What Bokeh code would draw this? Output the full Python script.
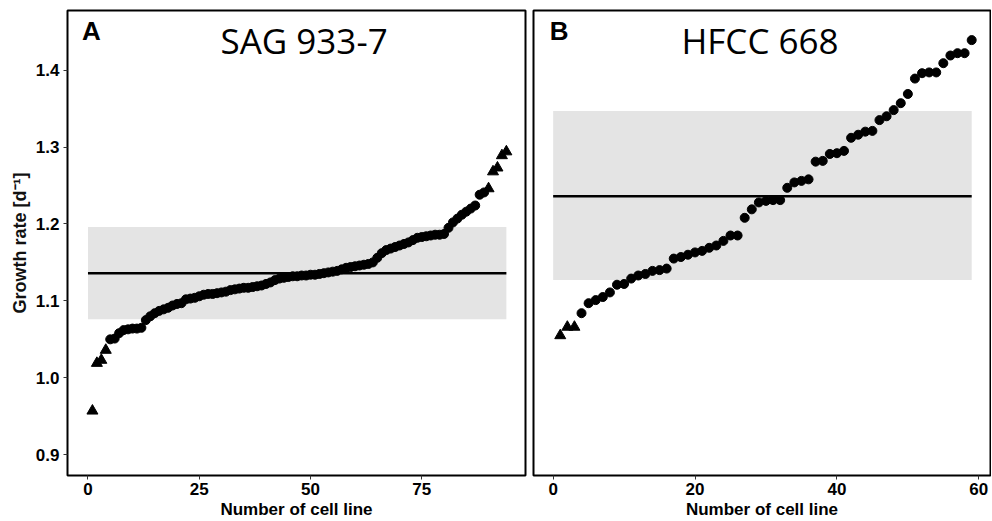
from bokeh.plotting import figure
from bokeh.layouts import row
from bokeh.models import Range1d, FixedTicker, PrintfTickFormatter, Label
from bokeh.embed import file_html
from bokeh.resources import INLINE

# ---------------- data ----------------
# Panel A: SAG 933-7 (sorted growth rates per cell line)
a_values = [0.957, 1.019, 1.023, 1.036,
            1.050, 1.051, 1.058, 1.062, 1.063, 1.064, 1.064, 1.065, 1.075, 1.080,
            1.084, 1.087, 1.089, 1.091, 1.094, 1.096, 1.097, 1.102, 1.103, 1.104,
            1.106, 1.108, 1.109, 1.109, 1.110, 1.111, 1.112, 1.114, 1.115, 1.116,
            1.117, 1.117, 1.118, 1.119, 1.120, 1.122, 1.124, 1.127, 1.129, 1.130,
            1.131, 1.132, 1.132, 1.133, 1.133, 1.134, 1.134, 1.135, 1.136, 1.137,
            1.138, 1.139, 1.141, 1.143, 1.144, 1.145, 1.146, 1.147, 1.148, 1.150,
            1.156, 1.162, 1.166, 1.168, 1.170, 1.172, 1.174, 1.176, 1.179, 1.182,
            1.183, 1.184, 1.185, 1.186, 1.186, 1.187, 1.195, 1.202, 1.207, 1.212,
            1.216, 1.220, 1.224, 1.238, 1.241,
            1.246, 1.268, 1.273, 1.289, 1.294]
a_groups = ["outlier"] * 4 + ["normal"] * 85 + ["outlier"] * 5
a_mean = 1.136
a_band = [1.076, 1.196]
a_xticks = [0, 25, 50, 75]

# Panel B: HFCC 668
b_values = [1.055, 1.066, 1.066, 1.084, 1.097, 1.101, 1.105, 1.111, 1.121, 1.122,
            1.129, 1.133, 1.135, 1.139, 1.140, 1.142, 1.155, 1.157, 1.160, 1.163,
            1.165, 1.169, 1.172, 1.178, 1.185, 1.185, 1.208, 1.219, 1.228, 1.230,
            1.231, 1.231, 1.247, 1.254, 1.256, 1.258, 1.281, 1.282, 1.291, 1.292,
            1.295, 1.312, 1.316, 1.320, 1.321, 1.335, 1.340, 1.348, 1.357, 1.369,
            1.389, 1.396, 1.397, 1.397, 1.409, 1.419, 1.422, 1.422, 1.439]
b_groups = ["outlier"] * 3 + ["normal"] * 56
b_mean = 1.236
b_band = [1.127, 1.347]
b_xticks = [0, 20, 40, 60]

y_ticks = [0.9, 1.0, 1.1, 1.2, 1.3, 1.4]
panel_letters = ["A", "B"]
panel_titles = ["SAG 933-7", "HFCC 668"]
x_title = "Number of cell line"
y_title = "Growth rate [d\u207b\u00b9]"

FONT = "Liberation Sans"
TITLE_FONT = "Open Sans"
YR = (0.873, 1.4775)


def make_panel(values, groups, mean, band, xticks, xr, letter, title,
               letter_x, title_x, show_y, width, bl, br):
    kw = dict(width=width, height=521,
              x_range=Range1d(*xr), y_range=Range1d(*YR),
              output_backend="svg", toolbar_location=None,
              min_border_left=bl, min_border_right=br,
              min_border_top=10, min_border_bottom=40)
    if not show_y:
        kw["y_axis_location"] = None
    p = figure(**kw)
    p.background_fill_color = "white"
    p.border_fill_color = "white"
    p.xgrid.visible = False
    p.ygrid.visible = False
    p.outline_line_color = "black"
    p.outline_line_width = 2
    p.outline_line_alpha = 1.0

    n = len(values)
    # grey band and mean line
    p.quad(left=[0], right=[n], bottom=[band[0]], top=[band[1]],
           fill_color="#E4E4E4", line_color=None)
    p.line(x=[0, n], y=[mean, mean], line_color="black", line_width=2.5)

    xs = list(range(1, n + 1))
    cx = [x for x, g in zip(xs, groups) if g == "normal"]
    cy = [v for v, g in zip(values, groups) if g == "normal"]
    tx = [x for x, g in zip(xs, groups) if g == "outlier"]
    ty = [v for v, g in zip(values, groups) if g == "outlier"]
    p.scatter(x=cx, y=cy, marker="circle", size=9,
              fill_color="black", line_color="black")
    p.scatter(x=tx, y=ty, marker="triangle", size=11,
              fill_color="black", line_color="black")

    # axes
    for ax in p.xaxis:
        ax.ticker = FixedTicker(ticks=xticks)
        ax.axis_label = x_title
        ax.axis_label_text_font = FONT
        ax.axis_label_text_font_style = "bold"
        ax.axis_label_text_font_size = "17px"
        ax.axis_label_text_color = "black"
        ax.axis_label_standoff = 2
        ax.major_label_text_font = FONT
        ax.major_label_text_font_style = "bold"
        ax.major_label_text_font_size = "17px"
        ax.major_label_text_color = "black"
        ax.major_label_standoff = 3
        ax.axis_line_color = None
        ax.major_tick_in = 0
        ax.major_tick_out = 4
        ax.major_tick_line_color = "#333333"
        ax.minor_tick_line_color = None
    if show_y:
        for ax in p.yaxis:
            ax.ticker = FixedTicker(ticks=y_ticks)
            ax.formatter = PrintfTickFormatter(format="%.1f")
            ax.axis_label = y_title
            ax.axis_label_text_font = FONT
            ax.axis_label_text_font_style = "bold"
            ax.axis_label_text_font_size = "18px"
            ax.axis_label_text_color = "#111111"
            ax.axis_label_standoff = 3
            ax.major_label_text_font = FONT
            ax.major_label_text_font_style = "bold"
            ax.major_label_text_font_size = "17px"
            ax.major_label_text_color = "black"
            ax.major_label_standoff = 4
            ax.axis_line_color = None
            ax.major_tick_in = 0
            ax.major_tick_out = 4
            ax.major_tick_line_color = "#333333"
            ax.minor_tick_line_color = None

    p.add_layout(Label(x=letter_x, y=1.4506, text=letter, text_font=FONT,
                       text_font_style="bold", text_font_size="26px",
                       text_color="black", text_align="left",
                       text_baseline="alphabetic"))
    p.add_layout(Label(x=title_x, y=1.4385, text=title, text_font=TITLE_FONT,
                       text_font_size="35px", text_color="black",
                       text_align="center", text_baseline="alphabetic"))
    return p


pA = make_panel(a_values, a_groups, a_mean, a_band, a_xticks, (-4.6, 98.3),
                panel_letters[0], panel_titles[0], -1.37, 48.55, True,
                529, 67, 4)
pB = make_panel(b_values, b_groups, b_mean, b_band, b_xticks, (-2.77, 61.65),
                panel_letters[1], panel_titles[1], -0.48, 29.16, False,
                462, 4, 1)

layout = row(pA, pB)
open("out.html", "w").write(file_html(layout, INLINE))
